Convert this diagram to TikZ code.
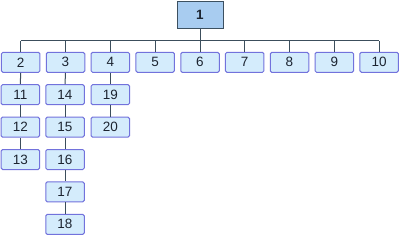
\documentclass[tikz,border=0pt]{standalone}
\usepackage{fontspec}
\setmainfont{Liberation Sans}
\begin{document}
\begin{tikzpicture}[x=1pt,y=-1pt,
  box/.style={draw=boxline,fill=boxfill,line width=1pt,rounded corners=1.5pt,minimum width=38.5pt,minimum height=20pt,inner sep=0pt,font=\fontsize{13.5}{13.5}\selectfont,text=txt},
  rootbox/.style={draw=rootline,fill=rootfill,line width=1pt,minimum width=46pt,minimum height=27pt,inner sep=0pt,font=\fontsize{13.5}{13.5}\selectfont\bfseries,text=txt},
  conn/.style={draw=connline,line width=1pt}]
\definecolor{boxline}{HTML}{7272DC}
\definecolor{boxfill}{HTML}{D4ECFC}
\definecolor{rootline}{HTML}{3C5060}
\definecolor{rootfill}{HTML}{A8CCF0}
\definecolor{connline}{HTML}{3C4E5C}
\definecolor{txt}{HTML}{1C2430}
\useasboundingbox[fill=white] (0,0) rectangle (400,234);
\node[rootbox] (n1) at (200,14.7) {1};
\foreach \i/\c in {2/20.7,3/65.5,4/110.3,5/155.1,6/200,7/244.7,8/289.5,9/334.3,10/379.1}
  \node[box] (n\i) at (\c,62.3) {\i};
\node[box] (n11) at (20.3,94.7) {11};
\node[box] (n12) at (20.3,127.1) {12};
\node[box] (n13) at (20.3,159.5) {13};
\node[box] (n14) at (65,94.7) {14};
\node[box] (n15) at (65,127.1) {15};
\node[box] (n16) at (65,159.5) {16};
\node[box] (n17) at (65,191.9) {17};
\node[box] (n18) at (65,224.3) {18};
\node[box] (n19) at (110.3,94.7) {19};
\node[box] (n20) at (110.3,127.1) {20};
\coordinate (bus) at (0,40.7);
\draw[conn] (n1.south) -- (n1.south |- bus);
\draw[conn] (n2.north |- bus) -- (n10.north |- bus);
\foreach \i in {2,...,10}
  \draw[conn] (n\i.north) -- (n\i.north |- bus);
\draw[conn] (n2) -- (n11);
\draw[conn] (n11) -- (n12);
\draw[conn] (n12) -- (n13);
\draw[conn] (n3) -- (n14);
\draw[conn] (n14) -- (n15);
\draw[conn] (n15) -- (n16);
\draw[conn] (n16) -- (n17);
\draw[conn] (n17) -- (n18);
\draw[conn] (n4) -- (n19);
\draw[conn] (n19) -- (n20);
\end{tikzpicture}
\end{document}
